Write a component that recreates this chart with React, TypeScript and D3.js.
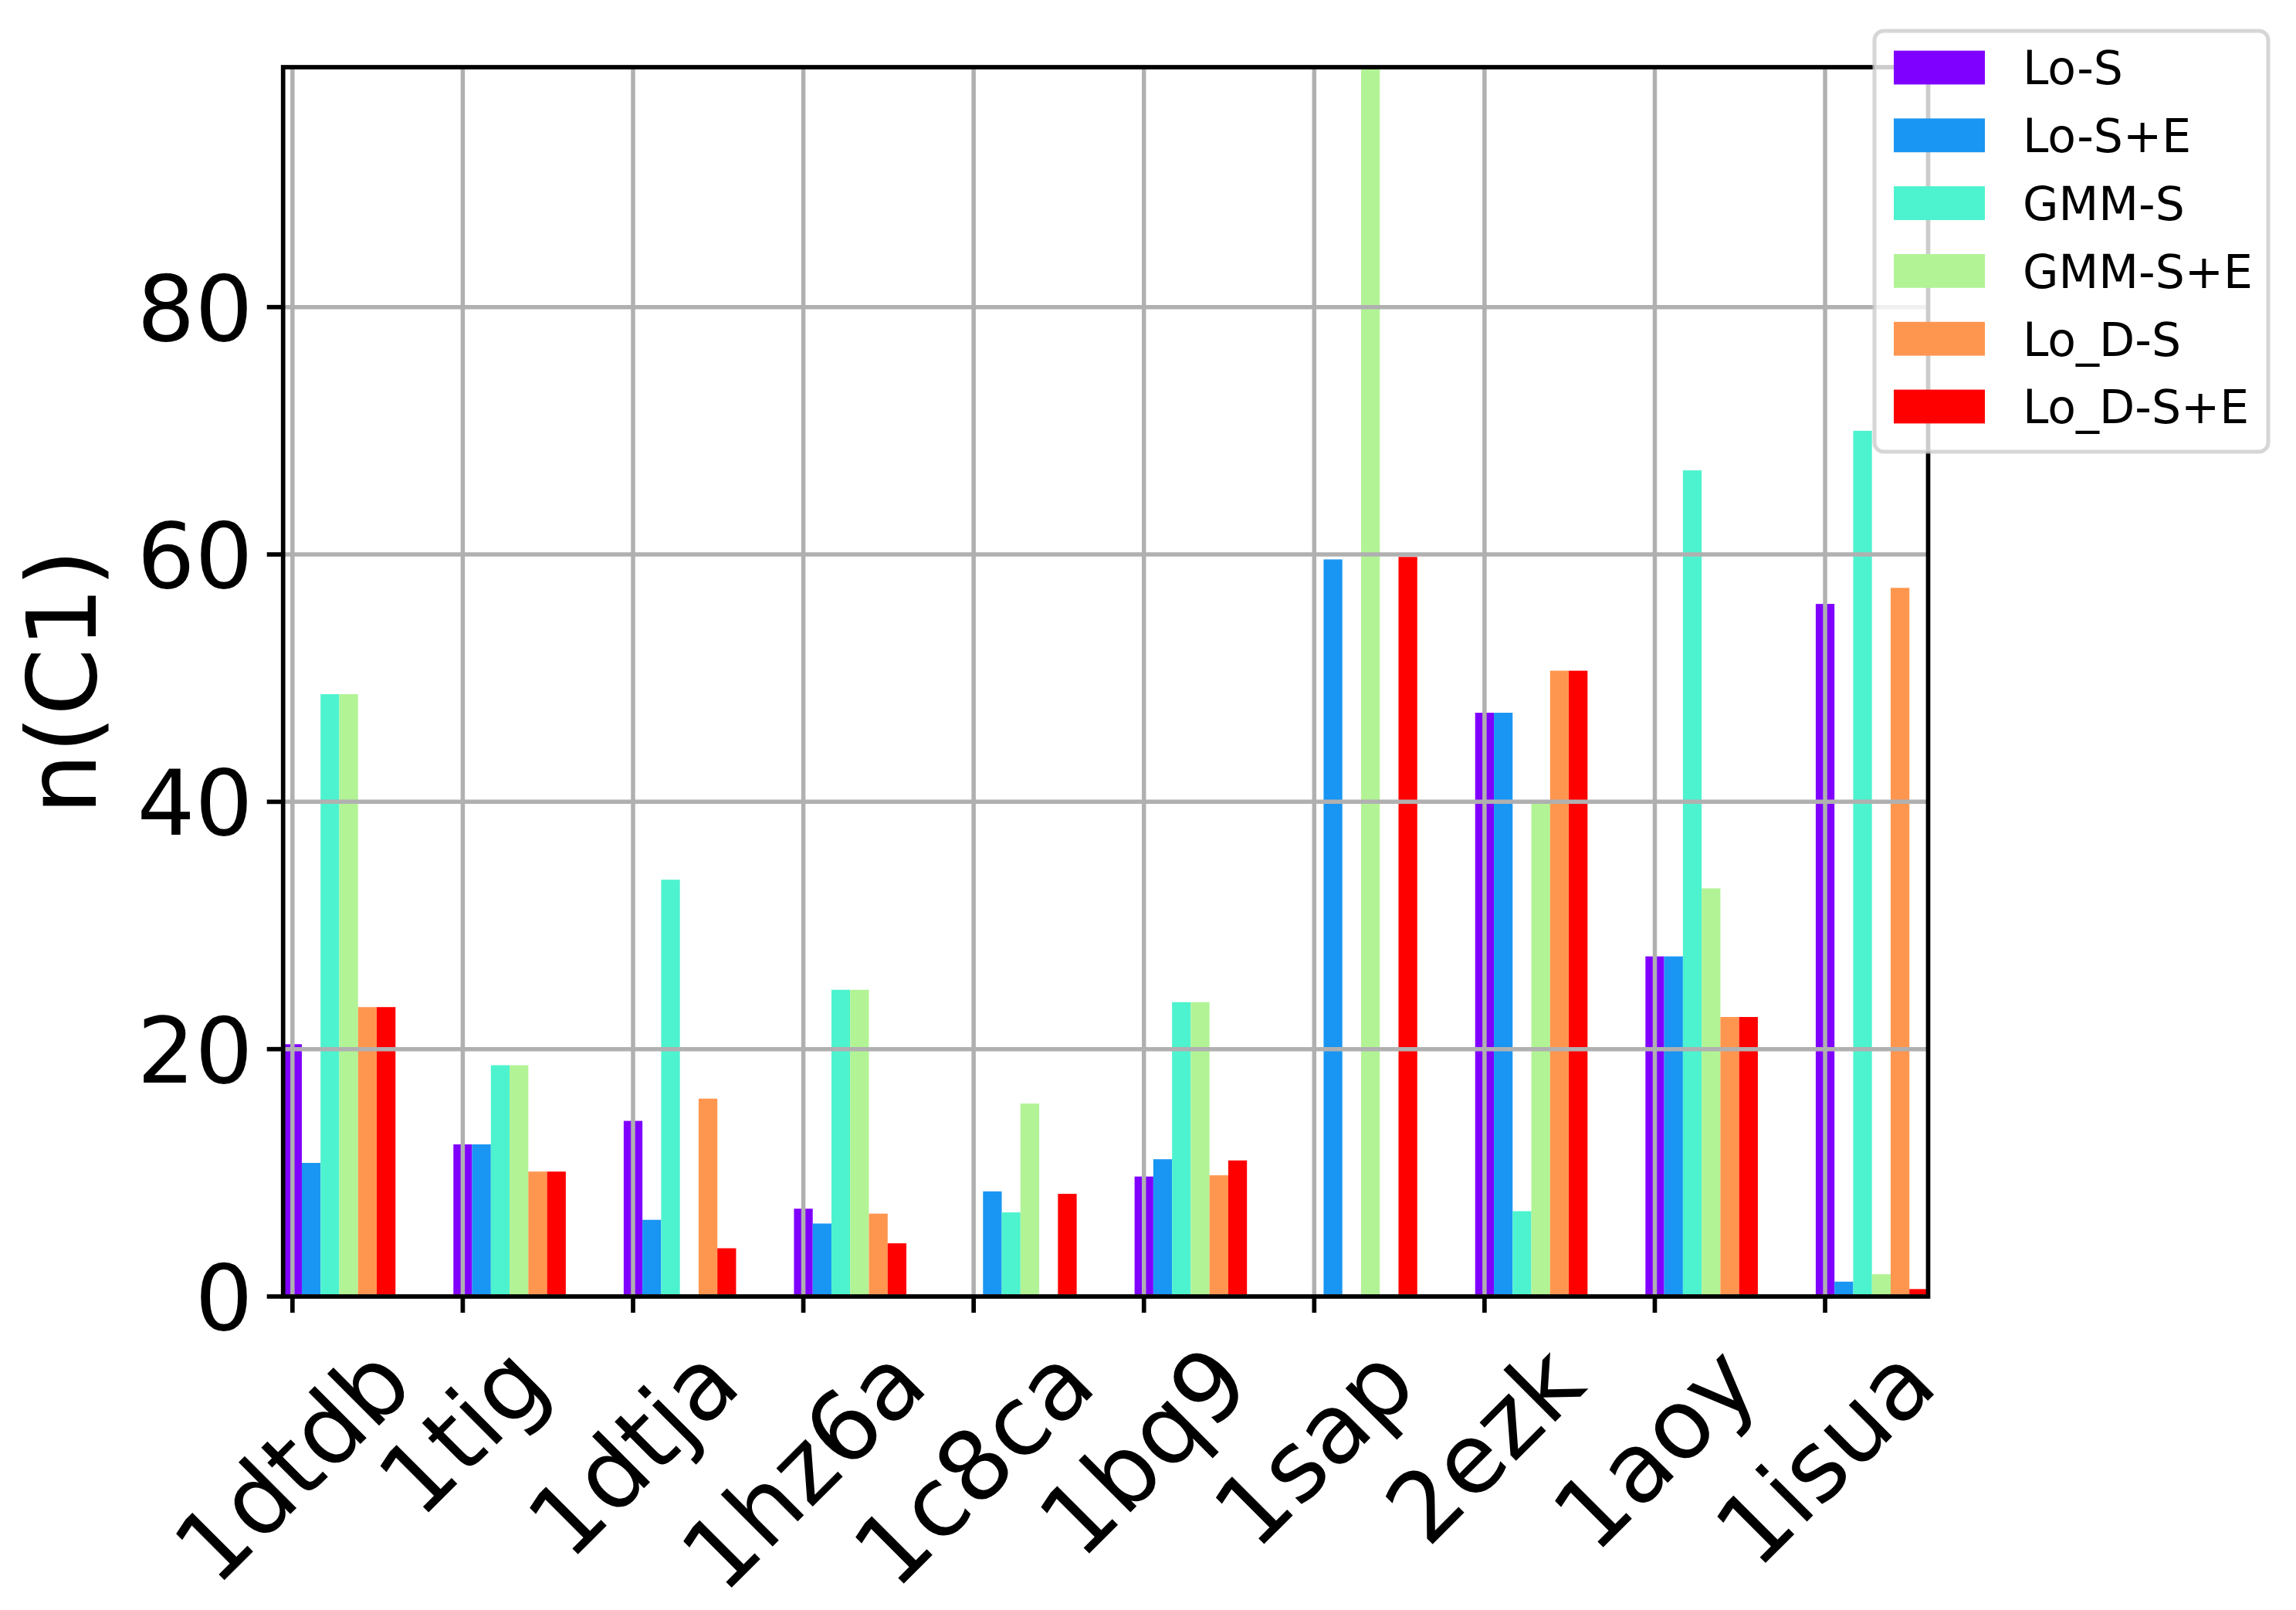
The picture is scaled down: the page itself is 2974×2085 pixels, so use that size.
import * as d3 from 'd3';

const W = 2974;
const H = 2085;

const categories = ['1dtdb', '1tig', '1dtja', '1hz6a', '1c8ca', '1bq9', '1sap', '2ezk', '1aoy', '1isua'];
const seriesNames = ['Lo-S', 'Lo-S+E', 'GMM-S', 'GMM-S+E', 'Lo_D-S', 'Lo_D-S+E'];
const seriesColors = ['#8000ff', '#1996f3', '#4df3ce', '#b2f396', '#ff964f', '#ff0000'];

const loS = [20.4, 12.3, 14.2, 7.1, 0, 9.7, 0, 47.2, 27.5, 56.0];
const loSE = [10.8, 12.3, 6.2, 5.9, 8.5, 11.1, 59.6, 47.2, 27.5, 1.2];
const gmmS = [48.7, 18.7, 33.7, 24.8, 6.8, 23.8, 0, 6.9, 66.8, 70.0];
const gmmSE = [48.7, 18.7, 0, 24.8, 15.6, 23.8, 99.4, 40.0, 33.0, 1.8];
const loDS = [23.4, 10.1, 16.0, 6.7, 0, 9.8, 0, 50.6, 22.6, 57.3];
const loDSE = [23.4, 10.1, 3.9, 4.3, 8.3, 11.0, 59.8, 50.6, 22.6, 0.6];

const seriesValues = [loS, loSE, gmmS, gmmSE, loDS, loDSE];
const yTicks = [0, 20, 40, 60, 80];

const BAR_W = 0.11;
const FONT = '"DejaVu Sans", sans-serif';
const YTICK_FS = 118;
const XTICK_FS = 125;
const LEGEND_FS = 60;
const GRID = '#b0b0b0';
const TICK_LEN = 21;

// plot box in pixels
const LEFT = 366.7;
const RIGHT = 2497.5;
const TOP = 87;
const BOTTOM = 1679;

let measureCtx: CanvasRenderingContext2D | null = null;
function textWidth(s: string, fs: number) {
  if (!measureCtx) measureCtx = document.createElement('canvas').getContext('2d');
  if (!measureCtx) return s.length * fs * 0.6;
  measureCtx.font = `${fs}px "DejaVu Sans"`;
  return measureCtx.measureText(s).width;
}

export default function App() {
  const nBars = seriesNames.length;
  const x = d3
    .scaleLinear()
    .domain([-BAR_W / 2, categories.length - 1 + (nBars - 1) * BAR_W + BAR_W / 2])
    .range([LEFT, RIGHT]);
  const yMax = d3.max(seriesValues.flat()) ?? 100;
  const y = d3.scaleLinear().domain([0, yMax]).range([BOTTOM, TOP]);

  const labelTop = BOTTOM + TICK_LEN + 16;
  const lineH = XTICK_FS * 1.164;

  // legend geometry
  const lgLeft = 2428;
  const lgRight = 2938;
  const lgTop = 40;
  const lgBottom = 585;
  const rowY0 = 87.5;
  const rowStep = 87.8;

  return (
    <svg width={W} height={H} viewBox={`0 0 ${W} ${H}`} style={{ display: 'block', background: '#fff' }}>
      <style>{'body{margin:0}'}</style>
      <defs>
        <clipPath id="plot">
          <rect x={LEFT} y={TOP} width={RIGHT - LEFT} height={BOTTOM - TOP} />
        </clipPath>
      </defs>

      {/* bars */}
      <g clipPath="url(#plot)">
        {seriesValues.map((vals, s) =>
          vals.map((v, i) => {
            const cx = i + s * BAR_W;
            const x0 = x(cx - BAR_W / 2);
            const x1 = x(cx + BAR_W / 2);
            return (
              <rect
                key={`${s}-${i}`}
                x={x0}
                y={y(v)}
                width={x1 - x0}
                height={y(0) - y(v)}
                fill={seriesColors[s]}
              />
            );
          }),
        )}
      </g>

      {/* grid drawn above bars */}
      <g stroke={GRID} strokeWidth={5.5}>
        {categories.map((c, i) => (
          <line key={c} x1={x(i)} x2={x(i)} y1={TOP} y2={BOTTOM} />
        ))}
        {yTicks.map((t) => (
          <line key={t} x1={LEFT} x2={RIGHT} y1={y(t)} y2={y(t)} />
        ))}
      </g>

      {/* spines */}
      <rect x={LEFT} y={TOP} width={RIGHT - LEFT} height={BOTTOM - TOP} fill="none" stroke="#000" strokeWidth={5.7} />

      {/* y ticks */}
      {yTicks.map((t) => (
        <g key={t}>
          <line x1={LEFT - TICK_LEN} x2={LEFT} y1={y(t)} y2={y(t)} stroke="#000" strokeWidth={5.7} />
          <text
            x={LEFT - TICK_LEN - 18}
            y={y(t) + YTICK_FS * 0.364}
            textAnchor="end"
            fontFamily={FONT}
            fontSize={YTICK_FS}
            fill="#000"
          >
            {t}
          </text>
        </g>
      ))}

      {/* x ticks and rotated labels */}
      {categories.map((c, i) => {
        const w = textWidth(c, XTICK_FS);
        const cy = labelTop + (w + lineH) / (2 * Math.SQRT2);
        return (
          <g key={c}>
            <line x1={x(i)} x2={x(i)} y1={BOTTOM} y2={BOTTOM + TICK_LEN} stroke="#000" strokeWidth={5.7} />
            <text
              transform={`translate(${x(i)},${cy}) rotate(-45)`}
              y={XTICK_FS * 0.346}
              textAnchor="middle"
              fontFamily={FONT}
              fontSize={XTICK_FS}
              fill="#000"
            >
              {c}
            </text>
          </g>
        );
      })}

      {/* y label */}
      <text
        transform={`translate(124,${(TOP + BOTTOM) / 2}) rotate(-90)`}
        textAnchor="middle"
        fontFamily={FONT}
        fontSize={125}
        fill="#000"
      >
        n(C1)
      </text>

      {/* legend */}
      <g>
        <rect
          x={lgLeft}
          y={lgTop}
          width={lgRight - lgLeft}
          height={lgBottom - lgTop}
          rx={12}
          fill="#fff"
          fillOpacity={0.8}
          stroke="#cccccc"
          strokeOpacity={0.8}
          strokeWidth={5}
        />
        {seriesNames.map((name, s) => {
          const cy = rowY0 + s * rowStep;
          return (
            <g key={name}>
              <rect x={2453} y={cy - 21.9} width={118} height={43.8} fill={seriesColors[s]} />
              <text
                x={2620}
                y={cy + LEGEND_FS * 0.364}
                fontFamily={FONT}
                fontSize={LEGEND_FS}
                fill="#000"
              >
                {name}
              </text>
            </g>
          );
        })}
      </g>
    </svg>
  );
}
